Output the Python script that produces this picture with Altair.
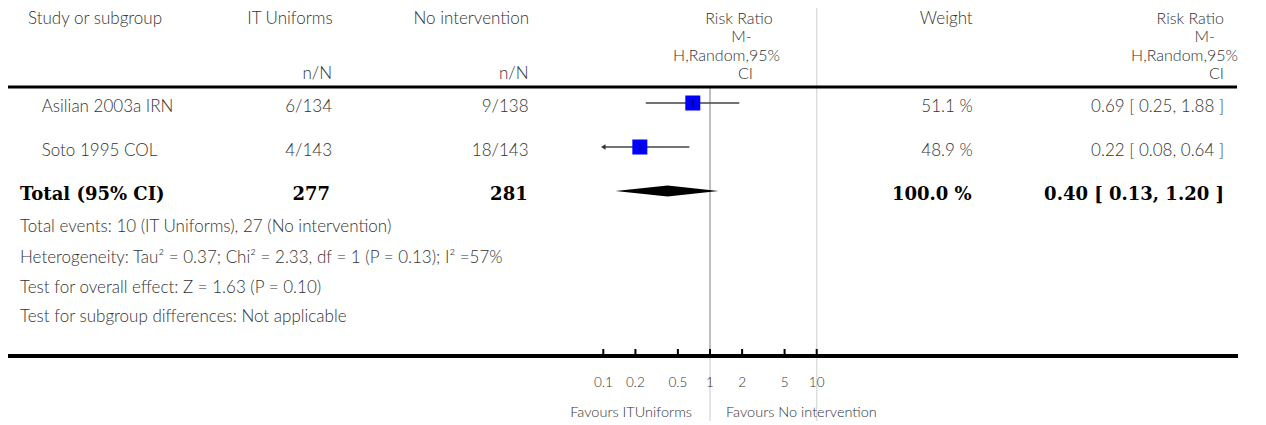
import altair as alt
import pandas as pd

# ---------------- data ----------------
studies = ["Asilian 2003a IRN", "Soto 1995 COL"]
it_events = [6, 4]
it_totals = [134, 143]
no_events = [9, 18]
no_totals = [138, 143]
weights = [51.1, 48.9]
rr = [0.69, 0.22]
ci_low = [0.25, 0.08]
ci_high = [1.88, 0.64]

total_label = "Total (95% CI)"
total_it = 277
total_no = 281
total_weight = 100.0
total_rr = 0.40
total_low = 0.13
total_high = 1.20

footnotes = [
    "Total events: 10 (IT Uniforms), 27 (No intervention)",
    "Heterogeneity: Tau\u00b2 = 0.37; Chi\u00b2 = 2.33, df = 1 (P = 0.13); I\u00b2 =57%",
    "Test for overall effect: Z = 1.63 (P = 0.10)",
    "Test for subgroup differences: Not applicable",
]

tick_values = [0.1, 0.2, 0.5, 1, 2, 5, 10]
tick_labels = ["0.1", "0.2", "0.5", "1", "2", "5", "10"]
favours_left = "Favours ITUniforms"
favours_right = "Favours No intervention"

# ---------------- tables ----------------
AX_MIN, AX_MAX = tick_values[0], tick_values[-1]
rows = pd.DataFrame({
    "study": studies,
    "row": list(range(len(studies))),
    "it": [f"{e}/{n}" for e, n in zip(it_events, it_totals)],
    "no": [f"{e}/{n}" for e, n in zip(no_events, no_totals)],
    "w": [f"{w:.1f} %" for w in weights],
    "ci": [f"{r:.2f} [ {l:.2f}, {h:.2f} ]" for r, l, h in zip(rr, ci_low, ci_high)],
    "rr": rr,
    "lo": [max(l, AX_MIN) for l in ci_low],
    "hi": [min(h, AX_MAX) for h in ci_high],
    "arrow": [l < AX_MIN for l in ci_low],
})
arrows = rows[rows["arrow"]].assign(v=AX_MIN)

trow = len(studies)
total = pd.DataFrame({
    "row": [trow],
    "label": [total_label],
    "it": [str(total_it)],
    "no": [str(total_no)],
    "w": [f"{total_weight:.1f} %"],
    "ci": [f"{total_rr:.2f} [ {total_low:.2f}, {total_high:.2f} ]"],
})
half = 5.5 / 44.0
diamond = pd.DataFrame({
    "x": [total_low, total_rr, total_high],
    "yt": [trow, trow - half, trow],
    "yb": [trow, trow + half, trow],
})
ticks = pd.DataFrame({"v": tick_values, "label": tick_labels})
one = pd.DataFrame({"v": [1]})
ten = pd.DataFrame({"v": [AX_MAX]})

# ---------------- styling ----------------
W, H = 1250, 413
FONT = "Lato"
FS = 17
HFS = 16
TC = "#333333"
BOLD_FONT = "DejaVu Serif"
BFS = 18

xs = alt.Scale(type="log", domain=[AX_MIN, AX_MAX], range=[595.3, 808.7], nice=False)
ys = alt.Scale(domain=[0, trow], range=[95, 183], nice=False, zero=False)


def X(field):
    return alt.X(field, scale=xs, axis=None)


def Y(field):
    return alt.Y(field, scale=ys, axis=None)


def txt(**kw):
    base = dict(font=FONT, fontSize=FS, color=TC, fontWeight=300, baseline="middle")
    base.update(kw)
    return base


layers = []

hdr = pd.DataFrame({"k": [0]})


def header(text, x, y, align, **kw):
    return alt.Chart(hdr).mark_text(**txt(align=align, text=text, **kw)).encode(
        x=alt.value(x), y=alt.value(y))


L1, L2, L3, L4 = 10.5, 29, 47.5, 66
layers += [
    header("Study or subgroup", 20, L1, "left"),
    header("IT Uniforms", 324.7, L1, "right"),
    header("No intervention", 521, L1, "right"),
    header("n/N", 324, L4, "right"),
    header("n/N", 520.5, L4, "right"),
    header("Risk Ratio", 764.7, L1, "right", fontSize=HFS),
    header("M-", 743.7, L2, "right", fontSize=HFS),
    header("H,Random,95%", 772, L3, "right", fontSize=HFS),
    header("CI", 745, L4, "right", fontSize=HFS),
    header("Weight", 964.7, L1, "right"),
    header("Risk Ratio", 1216, L1, "right", fontSize=HFS),
    header("M-", 1207, L2, "right", fontSize=HFS),
    header("H,Random,95%", 1230, L3, "right", fontSize=HFS),
    header("CI", 1216, L4, "right", fontSize=HFS),
]

# vertical reference lines
layers.append(alt.Chart(ten).mark_rule(color="#dddddd", strokeWidth=1.5).encode(
    x=X("v:Q"), y=alt.value(0), y2=alt.value(H)))
layers.append(alt.Chart(one).mark_rule(color="#aaaaaa", strokeWidth=1.5).encode(
    x=X("v:Q"), y=alt.value(79), y2=alt.value(348)))
layers.append(alt.Chart(one).mark_rule(color="#dddddd", strokeWidth=1.5).encode(
    x=X("v:Q"), y=alt.value(348), y2=alt.value(H)))

# horizontal lines
layers.append(alt.Chart(hdr).mark_rule(color="black", strokeWidth=3).encode(
    x=alt.value(0), x2=alt.value(1229), y=alt.value(79)))
layers.append(alt.Chart(hdr).mark_rule(color="black", strokeWidth=4).encode(
    x=alt.value(0), x2=alt.value(1230), y=alt.value(348)))

# study rows text
for field, x, align in [("study", 33.7, "left"), ("it", 324, "right"), ("no", 520.5, "right"),
                        ("w", 964.7, "right"), ("ci", 1216, "right")]:
    layers.append(alt.Chart(rows).mark_text(**txt(align=align, dy=4)).encode(
        x=alt.value(x), y=Y("row:Q"), text=f"{field}:N"))

# total row text
for field, x, align in [("label", 12, "left"), ("it", 322, "right"), ("no", 519.7, "right"),
                        ("w", 963.7, "right"), ("ci", 1216, "right")]:
    layers.append(alt.Chart(total).mark_text(
        font=BOLD_FONT, fontSize=BFS, fontWeight="bold", color="black",
        baseline="middle", align=align, dy=4).encode(
        x=alt.value(x), y=Y("row:Q"), text=f"{field}:N"))

# CI lines, arrows, squares, center ticks
layers.append(alt.Chart(rows).mark_rule(color="#444444", strokeWidth=1.5).encode(
    x=X("lo:Q"), x2="hi:Q", y=Y("row:Q")))
layers.append(alt.Chart(arrows).mark_point(shape="triangle-left", filled=True, size=28,
                                           color="#333333", opacity=1).encode(
    x=X("v:Q"), y=Y("row:Q")))
layers.append(alt.Chart(rows).mark_square(size=225, color="#0000ff", opacity=1).encode(
    x=X("rr:Q"), y=Y("row:Q")))
layers.append(alt.Chart(rows).mark_tick(orient="vertical", size=7, thickness=1, color="black").encode(
    x=X("rr:Q"), y=Y("row:Q")))

# pooled diamond
layers.append(alt.Chart(diamond).mark_area(color="black", orient="vertical", opacity=1).encode(
    x=X("x:Q"), y=Y("yt:Q"), y2="yb:Q"))

# footnotes
for text, y in zip(footnotes, [219, 250, 280, 309]):
    layers.append(header(text, 12, y, "left"))

# axis ticks and labels
layers.append(alt.Chart(ticks).mark_rule(color="black", strokeWidth=2).encode(
    x=X("v:Q"), y=alt.value(341), y2=alt.value(348)))
layers.append(alt.Chart(ticks).mark_text(**txt(fontSize=13.5, align="center")).encode(
    x=X("v:Q"), y=alt.value(375), text="label:N"))
layers.append(header(favours_left, 684, 405, "right", fontSize=14.5))
layers.append(header(favours_right, 718, 405, "left", fontSize=14.5))

chart = alt.layer(*layers).properties(
    width=W, height=H,
    autosize=alt.AutoSizeParams(type="none"),
    padding=0,
).configure_view(stroke=None)

chart.save("out.html", embed_options={"renderer": "svg", "actions": False})
